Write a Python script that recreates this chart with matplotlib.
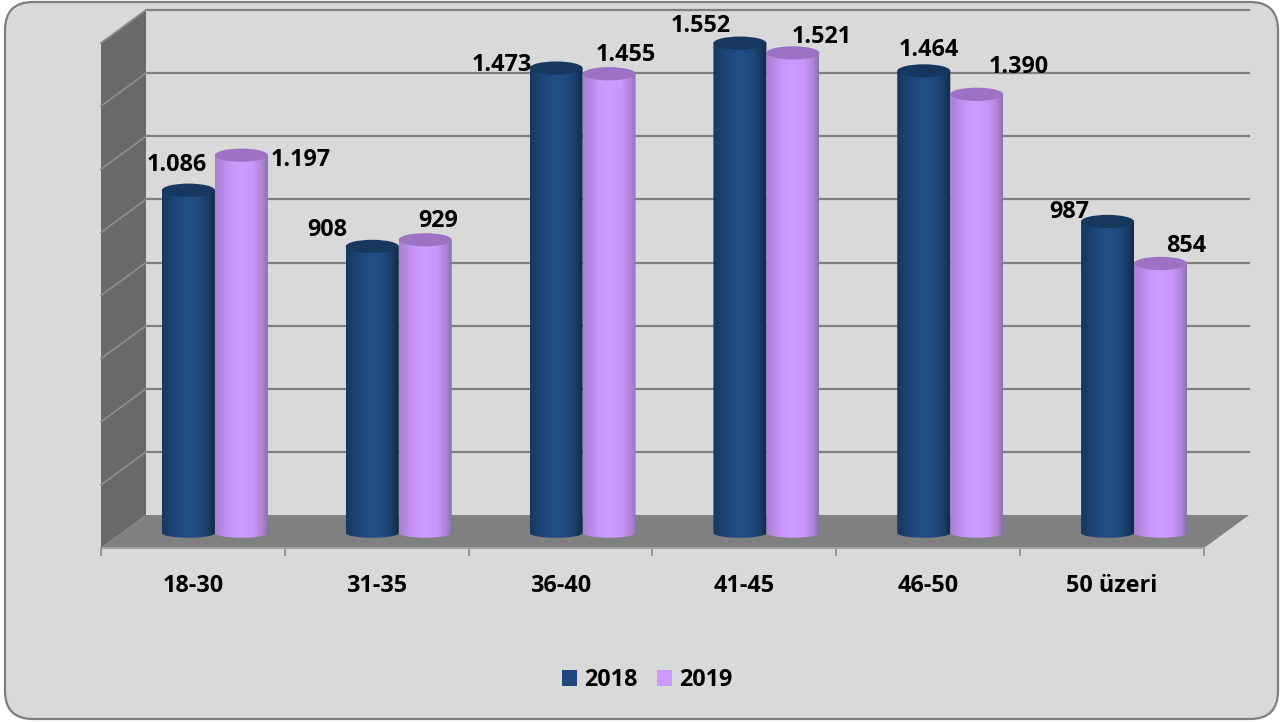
import numpy as np
import matplotlib
matplotlib.use("Agg")
import matplotlib.pyplot as plt
from matplotlib.colors import LinearSegmentedColormap
from matplotlib.patches import Ellipse, FancyBboxPatch, Patch, PathPatch
from matplotlib.path import Path
from matplotlib.transforms import offset_copy

categories = ["18-30", "31-35", "36-40", "41-45", "46-50", "50 üzeri"]
values_2018 = [1086, 908, 1473, 1552, 1464, 987]
values_2019 = [1197, 929, 1455, 1521, 1390, 854]
ticks = [0, 200, 400, 600, 800, 1000, 1200, 1400, 1600]

# label offsets from the bar top, in pixels (they were moved by hand in the original)
offsets_2018 = [(-12, 25), (-45, 16), (-54, 3), (-39, 17), (5, 21), (-38, 9)]
offsets_2019 = [(59, -5), (13, 19), (17, 19), (29, 16), (42, 27), (26, 17)]

plt.rcParams["font.family"] = ["Open Sans", "DejaVu Sans"]
plt.rcParams["font.weight"] = "bold"
FS = 16.8

W, H = 1282, 722
fig = plt.figure(figsize=(W / 100, H / 100), dpi=100, facecolor="white")

# frame, in pixels
bg = fig.add_axes([0, 0, 1, 1])
bg.set_xlim(0, W)
bg.set_ylim(H, 0)
bg.axis("off")
bg.add_patch(FancyBboxPatch((5, 2), 1273, 717, boxstyle="round,pad=0,rounding_size=28",
                            fc="#d9d9d9", ec="#7f7f7f", lw=1.6))

# front plane of the 3d box
left, right, top, bottom = 101, 1204, 43, 548
ax = fig.add_axes([left / W, 1 - bottom / H, (right - left) / W, (bottom - top) / H])
ax.patch.set_alpha(0)
ax.set_xlim(-0.5, 5.5)
ax.set_ylim(0, 1600)

px_x = (right - left) / 6
px_y = (bottom - top) / 1600
depth_x = 45 / px_x
depth_y = 33 / px_y
mid = offset_copy(ax.transData, fig=fig, x=22, y=15, units="dots")

# walls and floor
ax.fill([-0.5, -0.5 + depth_x, -0.5 + depth_x, -0.5],
        [0, depth_y, 1600 + depth_y, 1600], color="#696969", lw=0, zorder=1, clip_on=False)
ax.fill([-0.5, -0.5 + depth_x, 5.5 + depth_x, 5.5],
        [0, depth_y, depth_y, 0], color="#808080", lw=0, zorder=1, clip_on=False)
for t in ticks[1:]:
    ax.plot([-0.5 + depth_x, 5.5 + depth_x], [t + depth_y, t + depth_y], color="#7f7f7f",
            lw=1.6, zorder=0.5, clip_on=False)
    ax.plot([-0.5, -0.5 + depth_x], [t, t + depth_y], color="#8c8c8c", lw=1.3, zorder=2, clip_on=False)


def cylinder(x, value, width, cmap, top_color, z):
    w = width / 2
    cap = 42
    foot = 30
    th = np.linspace(np.pi, 2 * np.pi, 40)
    xs = np.r_[x - w, x + w * np.cos(th), x + w]
    ys = np.r_[value, foot / 2 * np.sin(th), value]
    verts = np.column_stack([np.r_[xs, xs[0]], np.r_[ys, ys[0]]])
    body = PathPatch(Path(verts, closed=True), transform=mid, fc="none", ec="none", clip_on=False)
    ax.add_patch(body)
    grad = np.linspace(0, 1, 64).reshape(1, -1)
    im = ax.imshow(grad, cmap=cmap, extent=(x - w, x + w, -cap, value + cap), aspect="auto",
                   zorder=z, interpolation="bilinear")
    im.set_transform(mid)
    im.set_clip_path(body)
    im.set_clip_box(None)
    ax.add_patch(Ellipse((x, value), width, cap, fc=top_color, ec="none", transform=mid,
                         zorder=z + 0.1, clip_on=False))


cmap_2018 = LinearSegmentedColormap.from_list(
    "b", [(0, "#17375e"), (0.25, "#1e4679"), (0.5, "#205088"), (0.72, "#1f497d"), (0.9, "#173a63"), (1, "#12294a")])
cmap_2019 = LinearSegmentedColormap.from_list(
    "p", [(0, "#a87fd2"), (0.3, "#c996fb"), (0.5, "#cf9dff"), (0.72, "#c996fb"), (0.9, "#ad85d6"), (1, "#8f6fb0")])

bar_w = 53 / px_x
for i in range(len(categories)):
    cylinder(i - bar_w / 2, values_2018[i], bar_w, cmap_2018, "#17375e", 3)
    cylinder(i + bar_w / 2, values_2019[i], bar_w, cmap_2019, "#9d72c4", 4)

    for val, off, sign in ((values_2018[i], offsets_2018[i], -1), (values_2019[i], offsets_2019[i], 1)):
        label = f"{val:,}".replace(",", ".")
        ax.annotate(label, (i + sign * bar_w / 2, val), xycoords=mid, xytext=off,
                    textcoords="offset pixels", ha="center", va="center", fontsize=FS,
                    fontweight="bold", color="black", zorder=6, annotation_clip=False)

ax.set_xlim(-0.5, 5.5)
ax.set_ylim(0, 1600)

# axis
for s in ("top", "left", "right"):
    ax.spines[s].set_visible(False)
ax.spines["bottom"].set_color("#a0a0a0")
ax.spines["bottom"].set_linewidth(1.5)
ax.set_yticks([])
ax.set_xticks(range(6), categories, fontsize=FS, fontweight="bold")
ax.set_xticks(np.arange(-0.5, 6), minor=True)
ax.tick_params(axis="x", which="major", length=0, pad=19)
ax.tick_params(axis="x", which="minor", length=6, width=1.2, color="#8c8c8c")

handles = [Patch(fc="#1f497d", ec="none", label="2018"), Patch(fc="#cc99ff", ec="none", label="2019")]
fig.legend(handles=handles, loc="center", bbox_to_anchor=(647 / W, 1 - 680 / H), ncol=2, frameon=False,
           fontsize=FS, handlelength=0.65, handleheight=0.65, handletextpad=0.3, columnspacing=0.85)

fig.savefig("out.png", dpi=100)
